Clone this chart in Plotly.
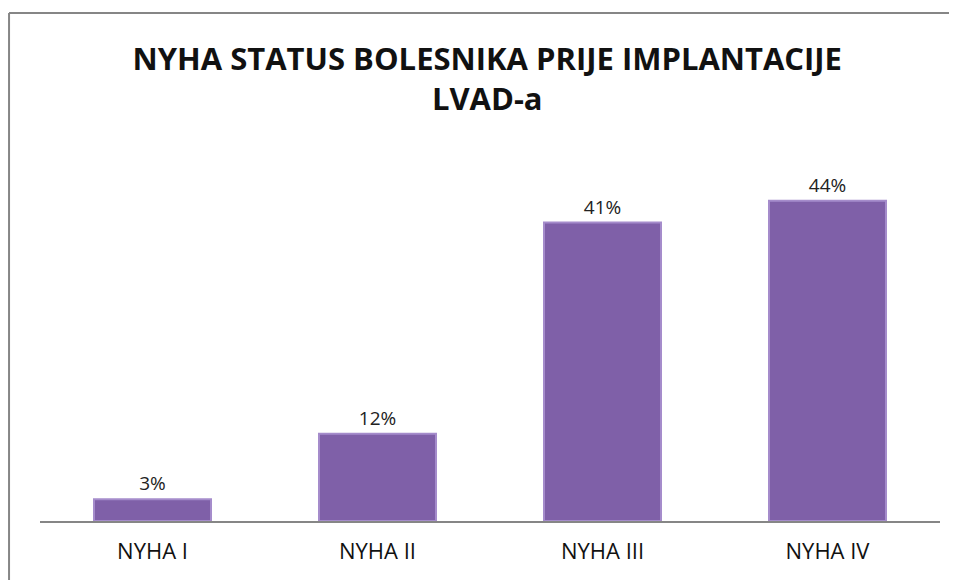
import plotly.graph_objects as go

categories = ["NYHA I", "NYHA II", "NYHA III", "NYHA IV"]
values = [3, 12, 41, 44]
labels = ["3%", "12%", "41%", "44%"]

BAR_C = "#7F60A8"
EDGE_C = "#A58CCB"
GRID_C = "#868686"
FONT = "Open Sans, sans-serif"

# page body has an 8px margin, so the figure is 8px smaller than the window
fig = go.Figure(go.Bar(
    x=categories, y=values,
    marker=dict(color=BAR_C, line=dict(color=EDGE_C, width=2)),
    text=labels, textposition="outside",
    textfont=dict(size=19, color="#222222", family=FONT),
    cliponaxis=False,
    width=0.52,
))

fig.update_layout(
    width=949, height=572,
    margin=dict(l=32, r=17, t=149, b=59),
    paper_bgcolor="white", plot_bgcolor="white",
    font=dict(family=FONT, color="#222222"),
    title=dict(text="<b>NYHA STATUS BOLESNIKA PRIJE IMPLANTACIJE<br>LVAD-a</b>",
               x=0.505, xanchor="center", y=0.892, yanchor="middle",
               font=dict(size=31, color="#111111", family=FONT)),
    showlegend=False,
    shapes=[
        dict(type="line", xref="paper", yref="paper",
             x0=-0.0344, x1=-0.0344, y0=-0.25, y1=1.3956,
             line=dict(color=GRID_C, width=2)),
        dict(type="line", xref="paper", yref="paper",
             x0=-0.0344, x1=1.05, y0=1.3956, y1=1.3956,
             line=dict(color=GRID_C, width=2)),
    ],
)
fig.update_xaxes(showline=True, linecolor=GRID_C, linewidth=2,
                 showgrid=False, ticks="", ticklabelstandoff=10,
                 tickfont=dict(size=22, color="#111111", family=FONT))
fig.update_yaxes(range=[0, 50], visible=False, showgrid=False)

fig.write_html("out.html")
